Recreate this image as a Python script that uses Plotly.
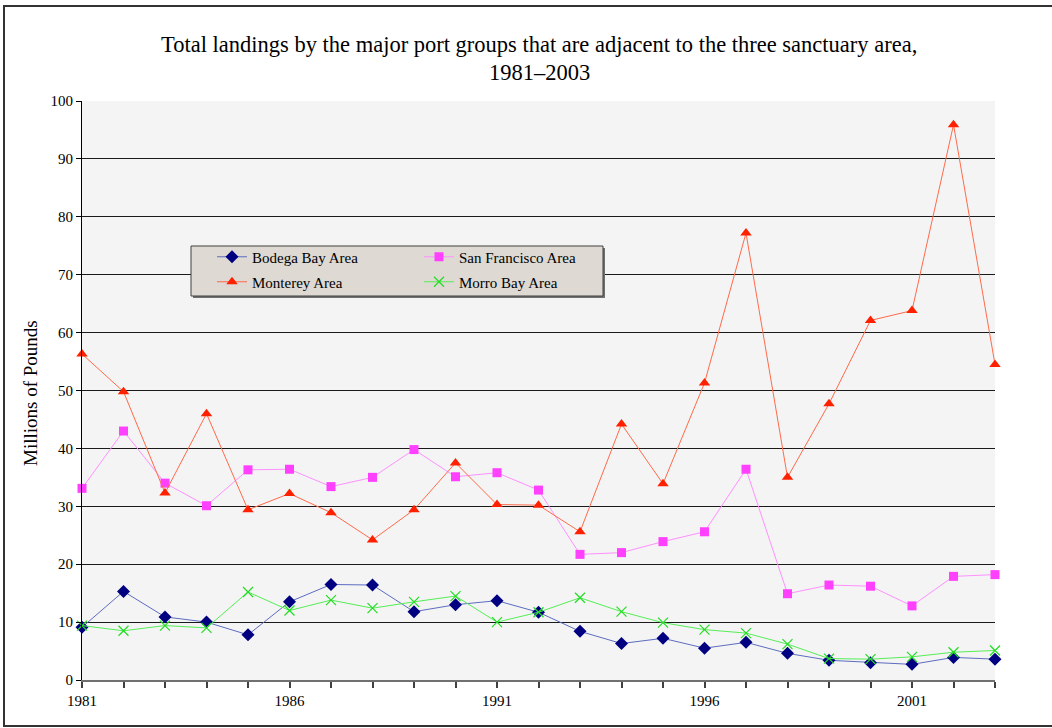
import plotly.graph_objects as go

years = list(range(1981, 2004))
bodega = [9.1, 15.3, 10.9, 10.0, 7.8, 13.5, 16.5, 16.4, 11.8, 13.0, 13.7, 11.7, 8.4, 6.3, 7.2, 5.5, 6.5, 4.6, 3.4, 3.0, 2.7, 3.9, 3.6]
san_francisco = [33.1, 43.0, 34.0, 30.1, 36.3, 36.4, 33.4, 35.0, 39.8, 35.1, 35.8, 32.8, 21.7, 22.0, 23.9, 25.6, 36.4, 14.9, 16.4, 16.2, 12.8, 17.9, 18.2]
monterey = [56.3, 49.8, 32.3, 46.0, 29.4, 32.2, 28.9, 24.2, 29.4, 37.5, 30.3, 30.2, 25.6, 44.2, 33.9, 51.3, 77.2, 35.0, 47.7, 62.1, 63.8, 95.9, 54.5]
morro = [9.4, 8.5, 9.4, 9.0, 15.2, 12.0, 13.8, 12.4, 13.5, 14.5, 10.0, 11.7, 14.2, 11.8, 9.9, 8.7, 8.1, 6.2, 3.7, 3.6, 4.0, 4.8, 5.1]

title_line1 = "Total landings by the major port groups that are adjacent to the three sanctuary area,"
title_line2 = "1981\u20132003"
y_title = "Millions of Pounds"
x_labels = [1981, 1986, 1991, 1996, 2001]

FONT = "Liberation Serif, Times New Roman, serif"

# plot area in pixels
W, H = 1052, 728
L, R, T, B = 82, 995, 101, 680
PW, PH = R - L, B - T

def px(x):
    return (x - L) / PW

def py(y):
    return (B - y) / PH

fig = go.Figure()

fig.add_trace(go.Scatter(
    x=years, y=bodega, name="Bodega Bay Area", mode="lines+markers",
    line=dict(color="#5d6cc0", width=1),
    marker=dict(symbol="diamond", size=10, color="#000080"),
    cliponaxis=False, legend="legend"))
fig.add_trace(go.Scatter(
    x=years, y=san_francisco, name="San Francisco Area", mode="lines+markers",
    line=dict(color="#ff90ff", width=1),
    marker=dict(symbol="square", size=9, color="#ff40ff"),
    cliponaxis=False, legend="legend"))
fig.add_trace(go.Scatter(
    x=years, y=monterey, name="Monterey Area", mode="lines+markers",
    line=dict(color="#ff6a4a", width=1),
    marker=dict(symbol="triangle-up", size=10, color="#ff2000"),
    cliponaxis=False, legend="legend2"))
fig.add_trace(go.Scatter(
    x=years, y=morro, name="Morro Bay Area", mode="lines+markers",
    line=dict(color="#55ee55", width=1),
    marker=dict(symbol="x-thin", size=10, color="#22dd22",
                line=dict(width=1.2, color="#22dd22")),
    cliponaxis=False, legend="legend2"))

legend_common = dict(
    orientation="h", bgcolor="rgba(0,0,0,0)", borderwidth=0,
    font=dict(family=FONT, size=15, color="black"),
    entrywidth=162, entrywidthmode="pixels", itemwidth=30,
    xanchor="left", yanchor="middle", tracegroupgap=0,
)

fig.update_layout(
    width=W, height=H,
    margin=dict(l=L, r=W - R, t=T, b=H - B, pad=0),
    paper_bgcolor="white",
    plot_bgcolor="#f4f4f4",
    font=dict(family=FONT, size=15, color="black"),
    showlegend=True,
    legend=dict(x=px(212), y=py(257), **legend_common),
    legend2=dict(x=px(212), y=py(282), **legend_common),
    xaxis=dict(
        range=[1981, 2003], tickmode="array", tickvals=x_labels,
        ticktext=[str(v) for v in x_labels],
        ticks="outside", ticklen=6, tickcolor="#404040", tickwidth=1.5,
        minor=dict(tickmode="linear", tick0=1981, dtick=1, ticks="outside",
                   ticklen=6, tickcolor="#404040", tickwidth=1.5, showgrid=False),
        showgrid=False, zeroline=False,
        showline=True, linecolor="#707070", linewidth=2,
        tickfont=dict(family=FONT, size=15, color="black"),
    ),
    yaxis=dict(
        range=[0, 100], dtick=10, tick0=0,
        ticks="outside", ticklen=5, tickcolor="black", tickwidth=1,
        showgrid=True, gridcolor="#1a1a1a", gridwidth=1,
        zeroline=False, showline=True, linecolor="black", linewidth=1,
        tickfont=dict(family=FONT, size=15, color="black"),
    ),
    shapes=[
        # outer frame
        dict(type="rect", xref="paper", yref="paper",
             x0=px(4), x1=px(1070), y0=py(726), y1=py(6),
             line=dict(color="#333333", width=2), fillcolor="rgba(0,0,0,0)",
             layer="above"),
        # legend box shadow
        dict(type="rect", xref="paper", yref="paper",
             x0=px(193), x1=px(605), y0=py(298), y1=py(248),
             line=dict(width=0), fillcolor="#707070", layer="above"),
        # legend box
        dict(type="rect", xref="paper", yref="paper",
             x0=px(191), x1=px(603), y0=py(296), y1=py(246),
             line=dict(color="#404040", width=1), fillcolor="#ded9d3",
             layer="above"),
    ],
    annotations=[
        dict(text=title_line1, xref="paper", yref="paper", x=px(539), y=py(44),
             xanchor="center", yanchor="middle", showarrow=False,
             font=dict(family=FONT, size=22.5, color="black")),
        dict(text=title_line2, xref="paper", yref="paper", x=px(539), y=py(73),
             xanchor="center", yanchor="middle", showarrow=False,
             font=dict(family=FONT, size=22.5, color="black")),
        dict(text=y_title, xref="paper", yref="paper", x=px(30), y=py(393),
             xanchor="center", yanchor="middle", showarrow=False, textangle=-90,
             font=dict(family=FONT, size=19, color="black")),
    ],
)

fig.write_html(
    "out.html",
    config={"displayModeBar": False},
    post_script="document.body.style.margin='0';document.body.style.overflow='hidden';",
)
